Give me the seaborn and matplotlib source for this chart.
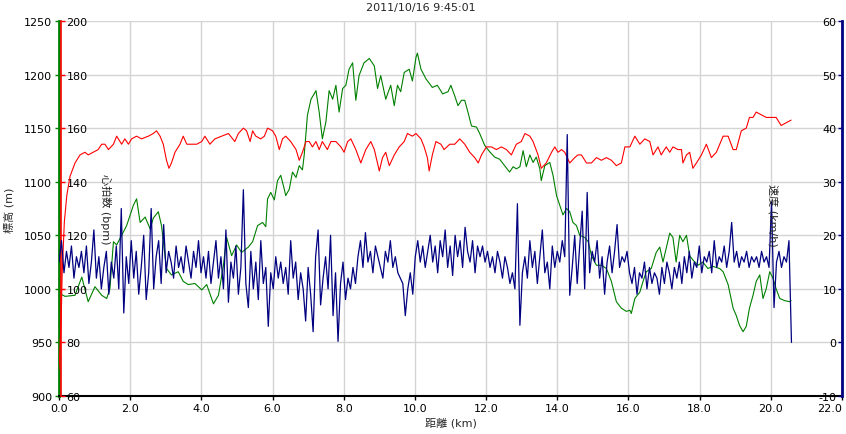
import numpy as np
import pandas as pd
import matplotlib
matplotlib.use("Agg")
import matplotlib.pyplot as plt
import seaborn as sns

sns.set_theme(style="white")
plt.rcParams['font.family'] = ['DejaVu Sans', 'Noto Sans CJK JP']
plt.rcParams['font.size'] = 8

title_text = "2011/10/16 9:45:01"
x_label = "距離 (km)"
elev_label = "標高 (m)"
hr_label = "心拍数 (bpm)"
speed_label = "速度 (km/h)"

# ---- elevation (green, left axis) ----
elev_km = [0.00, 0.17, 0.45, 0.64, 0.78, 0.82, 1.01, 1.20, 1.34, 1.43,
           1.53, 1.62, 1.76, 1.90, 2.09, 2.18, 2.28, 2.42, 2.56, 2.65,
           2.79, 2.88, 3.02, 3.16, 3.35, 3.49, 3.63, 3.82, 4.01, 4.15,
           4.34, 4.48, 4.62, 4.71, 4.85, 4.99, 5.13, 5.32,
           5.44, 5.58, 5.72, 5.81, 5.86, 5.95, 6.05, 6.14, 6.23, 6.33,
           6.37, 6.47, 6.56, 6.66, 6.75, 6.84, 6.89, 6.98, 7.08, 7.17,
           7.22, 7.31, 7.40, 7.50, 7.59, 7.69, 7.78, 7.87, 7.97, 8.06,
           8.15, 8.25, 8.34, 8.43, 8.57, 8.72, 8.86, 8.95, 9.04, 9.18,
           9.32, 9.42, 9.51, 9.60, 9.70, 9.84, 9.93, 10.03, 10.07, 10.17,
           10.31, 10.49, 10.63, 10.78,
           10.93, 11.01, 11.12, 11.21, 11.31, 11.40, 11.49, 11.59, 11.73, 11.82,
           11.96, 12.10, 12.24, 12.38, 12.52, 12.66, 12.76, 12.85, 12.95, 13.04,
           13.13, 13.23, 13.32, 13.41, 13.51, 13.55, 13.65, 13.79, 13.88, 13.98,
           14.07, 14.16, 14.26, 14.35, 14.44, 14.54, 14.63, 14.77, 14.87, 14.96,
           15.10, 15.24, 15.38, 15.52, 15.66, 15.80, 15.94, 16.04, 16.08, 16.18,
           16.32,
           16.41, 16.50, 16.64, 16.78, 16.88, 16.97, 17.06, 17.16, 17.25, 17.34,
           17.44, 17.53, 17.63, 17.72, 17.81, 17.95, 18.09, 18.23, 18.37, 18.56,
           18.66, 18.80, 18.94, 19.03, 19.12, 19.22, 19.31, 19.40, 19.50, 19.59,
           19.69, 19.78, 19.87, 19.97, 20.06, 20.15, 20.25, 20.39, 20.53, 20.57]
elev_m = [996, 993, 994, 1011, 993, 988, 1002, 994, 991, 1000,
          1044, 1041, 1050, 1059, 1078, 1084, 1062, 1067, 1056, 1066,
          1072, 1059, 1019, 1013, 1016, 1007, 1004, 1005, 999, 1004,
          986, 994, 1022, 1048, 1031, 1041, 1034, 1039,
          1044, 1059, 1062, 1058, 1084, 1090, 1083, 1101, 1106, 1093,
          1087, 1093, 1109, 1104, 1115, 1111, 1125, 1162, 1177, 1182,
          1185, 1165, 1140, 1156, 1185, 1177, 1190, 1165, 1187, 1190,
          1205, 1211, 1176, 1199, 1211, 1215, 1208, 1187, 1199, 1177,
          1190, 1171, 1190, 1184, 1202, 1205, 1194, 1216, 1220, 1205,
          1196, 1188, 1190, 1182,
          1184, 1190, 1180, 1171, 1176, 1176, 1165, 1152, 1151, 1145,
          1134, 1128, 1123, 1121, 1115, 1109, 1114, 1112, 1114, 1129,
          1114, 1125, 1118, 1123, 1112, 1101, 1115, 1118, 1106, 1087,
          1078, 1069, 1075, 1072, 1062, 1059, 1050, 1048, 1044, 1031,
          1022, 1022, 1019, 1007, 988, 982, 979, 980, 977, 991,
          997,
          1007, 1016, 1019, 1034, 1039, 1025, 1038, 1052, 1048, 1025,
          1050, 1044, 1050, 1031, 1027, 1022, 1025, 1019, 1021, 1019,
          1016, 1004, 982, 975, 966, 960, 965, 982, 994, 1007,
          1013, 991, 1000, 1016, 1010, 1000, 991, 989, 988, 989]

# ---- heart rate (red, inner left axis) ----
hr_km = [0.00, 0.06, 0.09, 0.15, 0.22, 0.31, 0.45, 0.59, 0.73, 0.82,
         0.96, 1.10, 1.20, 1.29, 1.39, 1.53, 1.62, 1.76, 1.85, 1.95,
         2.04, 2.18, 2.32, 2.51, 2.65, 2.74, 2.84, 2.93, 3.02, 3.09,
         3.16, 3.26, 3.40, 3.49, 3.59, 3.73, 3.87, 4.01, 4.10, 4.24,
         4.38, 4.57, 4.76, 4.94, 5.04, 5.18, 5.27, 5.37,
         5.44, 5.53, 5.67, 5.77, 5.86, 6.00, 6.09, 6.19, 6.28, 6.37,
         6.51, 6.66, 6.75, 6.84, 6.94, 7.03, 7.12, 7.22, 7.31, 7.40,
         7.54, 7.64, 7.78, 7.92, 8.01, 8.11, 8.20, 8.34, 8.48, 8.62,
         8.76, 8.86, 9.00, 9.09, 9.18, 9.28, 9.42, 9.56, 9.70, 9.79,
         9.93, 10.03, 10.17, 10.26, 10.35, 10.40, 10.49, 10.59, 10.73, 10.82,
         10.98, 11.12, 11.26, 11.40, 11.54, 11.68, 11.78, 11.87, 12.01, 12.15,
         12.29, 12.43, 12.57, 12.71, 12.85, 12.99, 13.09, 13.23, 13.32, 13.46,
         13.55, 13.69, 13.84, 13.93, 14.02, 14.12, 14.21, 14.35, 14.49, 14.58,
         14.68, 14.82, 14.96, 15.10, 15.24, 15.38, 15.52, 15.66, 15.80, 15.90,
         16.04, 16.18, 16.32,
         16.46, 16.60, 16.69, 16.83, 16.92, 17.06, 17.16, 17.25, 17.39, 17.49,
         17.53, 17.63, 17.72, 17.81, 17.91, 18.05, 18.19, 18.33, 18.47, 18.66,
         18.80, 18.94, 19.03, 19.17, 19.31, 19.40, 19.50, 19.59, 19.73, 19.87,
         20.01, 20.15, 20.29, 20.43, 20.57]
hr_bpm = [70, 88, 106, 125, 135, 142, 147, 150, 151, 150,
          151, 152, 154, 154, 152, 154, 157, 154, 156, 154,
          156, 157, 156, 157, 158, 159, 157, 154, 148, 145,
          147, 151, 154, 157, 154, 154, 154, 155, 157, 154,
          156, 157, 158, 155, 158, 160, 159, 155,
          159, 157, 156, 157, 160, 159, 157, 152, 156, 157,
          155, 152, 148, 151, 155, 155, 153, 155, 152, 155,
          152, 155, 155, 153, 151, 155, 156, 152, 147, 152,
          155, 152, 144, 149, 151, 146, 150, 153, 155, 158,
          157, 158, 156, 153, 149, 144, 150, 155, 154, 152,
          154, 154, 156, 154, 151, 149, 147, 150, 153, 153,
          152, 153, 152, 150, 154, 155, 158, 157, 155, 150,
          145, 147, 151, 153, 151, 152, 151, 147, 149, 150,
          150, 147, 147, 149, 148, 149, 148, 146, 147, 153,
          153, 157, 154,
          156, 155, 150, 153, 150, 153, 151, 153, 152, 152,
          147, 150, 151, 145, 147, 150, 154, 149, 151, 157,
          157, 152, 152, 159, 160, 164, 164, 166, 165, 164,
          164, 164, 161, 162, 163]

# ---- speed (navy, right axis), one sample every 0.07 km ----
speed_step_km = 0.07
speed_kmh = [15, 19, 13, 17, 14, 18, 12, 16, 14, 17,
             13, 18, 11, 15, 21, 12, 16, 10, 14, 17,
             9, 15, 12, 18, 10, 25, 5.5, 16, 11, 19,
             12, 17, 9, 14, 20, 8, 13, 25, 10, 16,
             19, 11, 22, 13, 17, 15, 12, 18, 14, 16,
             13, 18, 15, 12, 17, 14, 19, 13, 16, 12,
             17, 11, 15, 19, 12, 16, 10, 21, 7.5, 15,
             12, 18, 9, 14, 28.5, 11, 6.5, 17, 10, 15,
             8, 19, 11, 14, 3, 13, 10, 16, 12, 15,
             11, 14, 9, 19, 12, 15, 8, 13, 10, 4,
             14, 9, 2, 16, 21, 7, 12, 16, 10, 20,
             5, 13, 0.2, 11, 15, 8, 12, 10, 14, 11,
             16, 19, 14, 20.5, 15, 17, 13, 18, 16, 14,
             12, 17, 15, 19, 14, 16, 13, 12, 11, 5,
             10, 13, 9, 16, 19, 15, 18, 14, 17, 20,
             15, 18, 13, 19, 16, 21, 14, 18, 12.5, 20,
             16, 19, 14, 21.5, 17, 15, 19, 13, 18, 16,
             18, 15, 17, 14, 16, 13, 17, 15, 12, 16,
             14, 11, 13, 10, 25.9, 3.2, 13, 16, 12, 19,
             14, 17, 11, 16, 21, 13, 15, 10, 18, 14,
             17, 15, 19, 16, 38.8, 8.8, 14, 20, 11, 18,
             24.5, 10, 28, 13, 17, 15, 19, 12, 16, 9,
             15, 18, 13, 17, 22, 14, 16, 15, 17, 13,
             11, 14, 9, 13, 12, 15, 10, 14, 11, 13,
             12, 9, 14, 11, 15, 13, 10, 14, 12, 15,
             11, 16, 13, 17, 12, 15, 14, 18, 13, 16,
             15, 17, 13, 19, 14, 16, 15, 18, 14, 17,
             22.4, 15, 17, 14, 16, 15, 17, 14, 16, 15,
             16, 14, 17, 15, 16, 14, 26.2, 6.5, 15, 17,
             14, 16, 15, 19, 0]
speed_km = np.arange(len(speed_kmh)) * speed_step_km

x_ticks = [0, 2, 4, 6, 8, 10, 12, 14, 16, 18, 20, 22]
elev_ticks = [900, 950, 1000, 1050, 1100, 1150, 1200, 1250]
hr_ticks = [60, 80, 100, 120, 140, 160, 180, 200]
speed_ticks = [-10, 0, 10, 20, 30, 40, 50, 60]

GREEN = "#008000"
RED = "#ff0000"
NAVY = "#000080"
GRID = "#d4d4d4"

df_elev = pd.DataFrame({"km": elev_km, "elev": elev_m})
df_hr = pd.DataFrame({"km": hr_km, "hr": hr_bpm})
df_sp = pd.DataFrame({"km": speed_km, "speed": speed_kmh})

W, H = 846, 435
fig = plt.figure(figsize=(W / 100, H / 100), dpi=100)
L, R, T, B = 59, 842, 22, 397
ax = fig.add_axes([L / W, 1 - B / H, (R - L) / W, (B - T) / H])

# green elevation
sns.lineplot(data=df_elev, x="km", y="elev", ax=ax, color=GREEN, linewidth=0.8,
             estimator=None, sort=False)
ax.set_xlim(0, 22)
ax.set_ylim(900, 1250)
ax.set_xticks(x_ticks)
ax.set_xticklabels([f"{v:.1f}" for v in x_ticks])
ax.get_xticklabels()[-1].set_horizontalalignment("right")
ax.set_yticks(elev_ticks)
ax.set_yticklabels([str(v) for v in elev_ticks])
ax.grid(True, color=GRID, linewidth=1)
ax.set_axisbelow(True)
ax.set_ylabel("")
ax.set_xlabel(x_label, fontsize=8, labelpad=3)
for s in ["top", "right"]:
    ax.spines[s].set_visible(False)
ax.spines["left"].set_color(GREEN)
ax.spines["left"].set_linewidth(2)
ax.spines["bottom"].set_color("black")
ax.spines["bottom"].set_linewidth(1.5)
ax.tick_params(axis="y", colors=GREEN, labelcolor="black", length=3, width=1,
               labelsize=8, pad=2, left=True)
ax.tick_params(axis="x", colors="black", length=3, width=1, labelsize=8, pad=2,
               bottom=True)

# red heart rate (spine at x=0, labels to the right)
ax2 = ax.twinx()
sns.lineplot(data=df_hr, x="km", y="hr", ax=ax2, color=RED, linewidth=0.8,
             estimator=None, sort=False)
ax2.set_ylim(60, 200)
ax2.set_yticks(hr_ticks)
ax2.set_yticklabels([str(v) for v in hr_ticks])
ax2.set_ylabel("")
for s in ["top", "left", "bottom"]:
    ax2.spines[s].set_visible(False)
ax2.spines["right"].set_position(("axes", 0.0025))
ax2.spines["right"].set_color(RED)
ax2.spines["right"].set_linewidth(1.2)
ax2.yaxis.tick_right()
ax2.tick_params(axis="y", colors=RED, labelcolor="black", length=3, width=1,
                labelsize=8, pad=1)
ax2.text(0.059, 0.5, hr_label, transform=ax2.transAxes, rotation=270,
         ha="center", va="center", fontsize=8)

# navy speed (spine at right, labels inside)
ax3 = ax.twinx()
sns.lineplot(data=df_sp, x="km", y="speed", ax=ax3, color=NAVY, linewidth=0.9,
             estimator=None, sort=False)
ax3.set_ylim(-10, 60)
ax3.set_yticks(speed_ticks)
ax3.set_yticklabels([str(v) for v in speed_ticks])
ax3.set_ylabel("")
for s in ["top", "right", "bottom"]:
    ax3.spines[s].set_visible(False)
ax3.spines["left"].set_position(("axes", 1.0))
ax3.spines["left"].set_color(NAVY)
ax3.spines["left"].set_linewidth(2)
ax3.yaxis.tick_left()
ax3.tick_params(axis="y", colors=NAVY, labelcolor="black", length=3, width=1,
                labelsize=8, pad=1)
ax3.text(0.911, 0.485, speed_label, transform=ax3.transAxes, rotation=270,
         ha="center", va="center", fontsize=8)

ax.set_xlim(0, 22)

# left label and title
fig.text(9 / W, 1 - 210 / H, elev_label, rotation=90, ha="center", va="center",
         fontsize=8)
fig.text(0.497, 1 - 8 / H, title_text, ha="center", va="center", fontsize=8)

fig.savefig("out.png", dpi=100)
